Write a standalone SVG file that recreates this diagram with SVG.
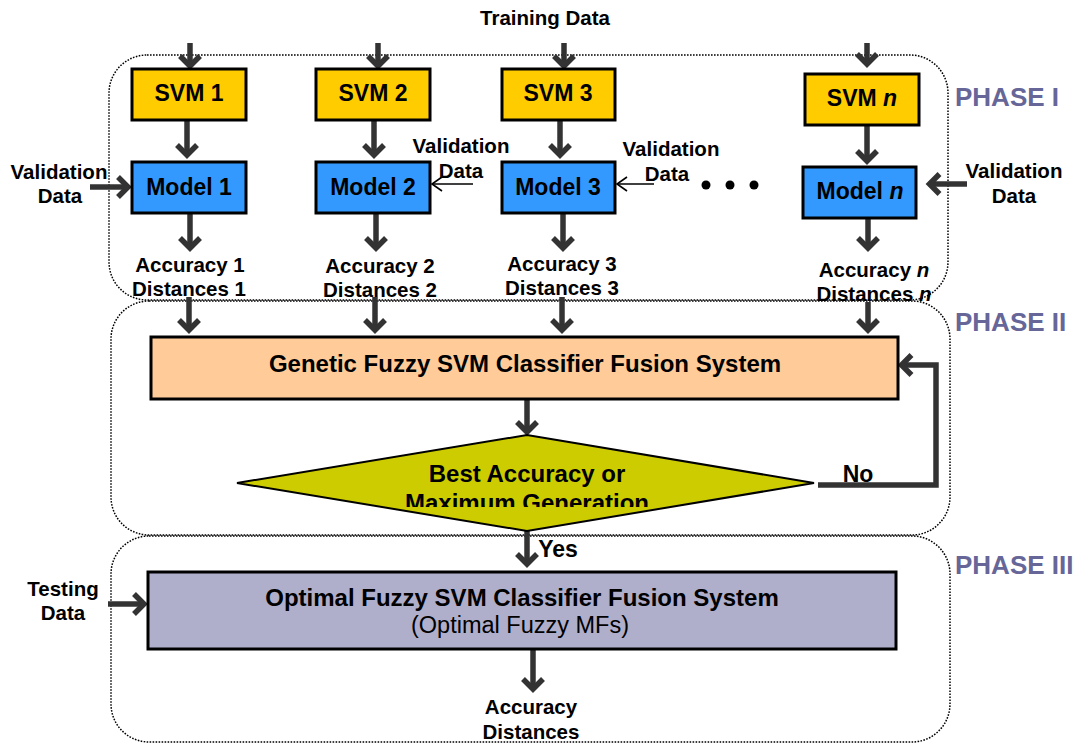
<svg xmlns="http://www.w3.org/2000/svg" width="1077" height="744" viewBox="0 0 1077 744">
<style>
text{font-family:"Liberation Sans",Arial,sans-serif;font-weight:bold;fill:#000;text-anchor:middle}
.lbl{font-size:20.5px}
.box{font-size:23px}
.big{font-size:24px}
.phase{font-size:26px;fill:#666699;text-anchor:start}
.phasebox{fill:none;stroke:#000;stroke-width:1.5;stroke-dasharray:1.6 1.4}
.svm{fill:#ffcc00;stroke:#000;stroke-width:3}
.model{fill:#3399ff;stroke:#000;stroke-width:3}
.arr{fill:none;stroke:#333;stroke-width:5.5;marker-end:url(#ah)}
.thin{fill:none;stroke:#000;stroke-width:1.6;marker-end:url(#th)}
</style>
<defs>
<marker id="ah" markerUnits="userSpaceOnUse" viewBox="-16 -14 24 28" markerWidth="24" markerHeight="28" refX="0" refY="0" orient="auto" overflow="visible">
<path d="M-10,-10 L0,0 L-10,10" fill="none" stroke="#333" stroke-width="5.5"/>
</marker>
<marker id="th" markerUnits="userSpaceOnUse" viewBox="-12 -8 14 16" markerWidth="14" markerHeight="16" refX="0" refY="0" orient="auto" overflow="visible">
<path d="M-10,-7 L0,0 L-10,7" fill="none" stroke="#000" stroke-width="1.6"/>
</marker>
<clipPath id="dclip"><rect x="200" y="420" width="660" height="87"/></clipPath>
</defs>

<g id="phases">
<rect class="phasebox" x="109" y="55" width="839" height="245" rx="38"/>
<rect class="phasebox" x="111" y="301" width="839" height="234" rx="38"/>
<rect class="phasebox" x="111" y="536" width="839" height="206" rx="38"/>
<text class="phase" x="955" y="106">PHASE I</text>
<text class="phase" x="955" y="331">PHASE II</text>
<text class="phase" x="955" y="574">PHASE III</text>
</g>

<g id="connectors">
<line class="arr" x1="190" y1="43" x2="190" y2="66"/>
<line class="arr" x1="378" y1="43" x2="378" y2="66"/>
<line class="arr" x1="564" y1="43" x2="564" y2="66"/>
<line class="arr" x1="867" y1="43" x2="867" y2="64"/>
<line class="arr" x1="187" y1="120" x2="187" y2="155"/>
<line class="arr" x1="374" y1="120" x2="374" y2="155"/>
<line class="arr" x1="560" y1="120" x2="560" y2="155"/>
<line class="arr" x1="867" y1="126" x2="867" y2="161"/>
<line class="arr" x1="190" y1="213" x2="190" y2="248"/>
<line class="arr" x1="376" y1="213" x2="376" y2="248"/>
<line class="arr" x1="563" y1="213" x2="563" y2="248"/>
<line class="arr" x1="868" y1="219" x2="868" y2="248"/>
<line class="arr" x1="189" y1="297" x2="189" y2="330"/>
<line class="arr" x1="375" y1="297" x2="375" y2="330"/>
<line class="arr" x1="562" y1="297" x2="562" y2="330"/>
<line class="arr" x1="868" y1="302" x2="868" y2="330"/>
<line class="arr" x1="527" y1="399" x2="527" y2="432"/>
<line class="arr" x1="527" y1="531" x2="527" y2="564"/>
<line class="arr" x1="533" y1="650" x2="533" y2="689"/>
<line class="arr" x1="90" y1="187" x2="128" y2="187"/>
<line class="arr" x1="967" y1="184" x2="929.5" y2="184"/>
<line class="arr" x1="108" y1="604" x2="144" y2="604"/>
<path class="arr" d="M818,485 H936 V365 H901.5"/>
<line class="thin" x1="473" y1="184" x2="432" y2="184"/>
<line class="thin" x1="654" y1="184" x2="617" y2="184"/>
</g>

<g id="training-data"><text class="lbl" x="545" y="25">Training Data</text></g>

<g id="svm1"><rect class="svm" x="132" y="69" width="114" height="51"/><text class="box" x="189" y="101">SVM 1</text></g>
<g id="svm2"><rect class="svm" x="316" y="69" width="114" height="51"/><text class="box" x="373" y="101">SVM 2</text></g>
<g id="svm3"><rect class="svm" x="502" y="69" width="113" height="51"/><text class="box" x="558" y="101">SVM 3</text></g>
<g id="svmn"><rect class="svm" x="805" y="74" width="114" height="51"/><text class="box" x="862" y="106">SVM <tspan font-style="italic">n</tspan></text></g>

<g id="model1"><rect class="model" x="132" y="162" width="114" height="51"/><text class="box" x="189" y="195">Model 1</text></g>
<g id="model2"><rect class="model" x="316" y="162" width="114" height="51"/><text class="box" x="373" y="195">Model 2</text></g>
<g id="model3"><rect class="model" x="502" y="162" width="113" height="51"/><text class="box" x="558" y="195">Model 3</text></g>
<g id="modeln"><rect class="model" x="803" y="167" width="113" height="51"/><text class="box" x="860" y="199">Model <tspan font-style="italic">n</tspan></text></g>

<g id="validation1"><text class="lbl" x="59" y="179">Validation</text><text class="lbl" x="60" y="203">Data</text></g>
<g id="validation2"><text class="lbl" x="461" y="153">Validation</text><text class="lbl" x="461" y="178">Data</text></g>
<g id="validation3"><text class="lbl" x="671" y="156">Validation</text><text class="lbl" x="667" y="181">Data</text></g>
<g id="validationn"><text class="lbl" x="1014" y="178">Validation</text><text class="lbl" x="1014" y="203">Data</text></g>

<g id="ellipsis"><circle cx="706" cy="185" r="4.5"/><circle cx="730" cy="185" r="4.5"/><circle cx="754" cy="185" r="4.5"/></g>

<g id="acc1"><text class="lbl" x="190" y="272">Accuracy 1</text><text class="lbl" x="189" y="296">Distances 1</text></g>
<g id="acc2"><text class="lbl" x="380" y="273">Accuracy 2</text><text class="lbl" x="380" y="297">Distances 2</text></g>
<g id="acc3"><text class="lbl" x="562" y="271">Accuracy 3</text><text class="lbl" x="562" y="295">Distances 3</text></g>
<g id="accn"><text class="lbl" x="874" y="277">Accuracy <tspan font-style="italic">n</tspan></text><text class="lbl" x="874" y="301">Distances <tspan font-style="italic">n</tspan></text></g>

<g id="genetic"><rect x="151" y="337" width="747" height="62" fill="#ffcc99" stroke="#000" stroke-width="3"/><text class="big" x="525" y="372">Genetic Fuzzy SVM Classifier Fusion System</text></g>

<g id="decision"><polygon points="237,483 527,435 814,483 527,531" fill="#cccc00" stroke="#000" stroke-width="2"/>
<text class="big" x="527" y="482">Best Accuracy or</text>
<text class="big" x="527" y="511" clip-path="url(#dclip)">Maximum Generation</text></g>

<g id="no-label"><text class="box" x="858" y="482">No</text></g>
<g id="yes-label"><text class="box" x="558" y="557">Yes</text></g>

<g id="testing-data"><text class="lbl" x="63" y="596">Testing</text><text class="lbl" x="63" y="620">Data</text></g>

<g id="optimal"><rect x="148" y="572" width="748" height="77" fill="#afafcb" stroke="#000" stroke-width="3"/>
<text class="big" x="522" y="606">Optimal Fuzzy SVM Classifier Fusion System</text>
<text x="520" y="633" style="font-size:23.5px;font-weight:normal">(Optimal Fuzzy MFs)</text></g>

<g id="final-output"><text class="lbl" x="531" y="714">Accuracy</text><text class="lbl" x="531" y="739">Distances</text></g>
</svg>
